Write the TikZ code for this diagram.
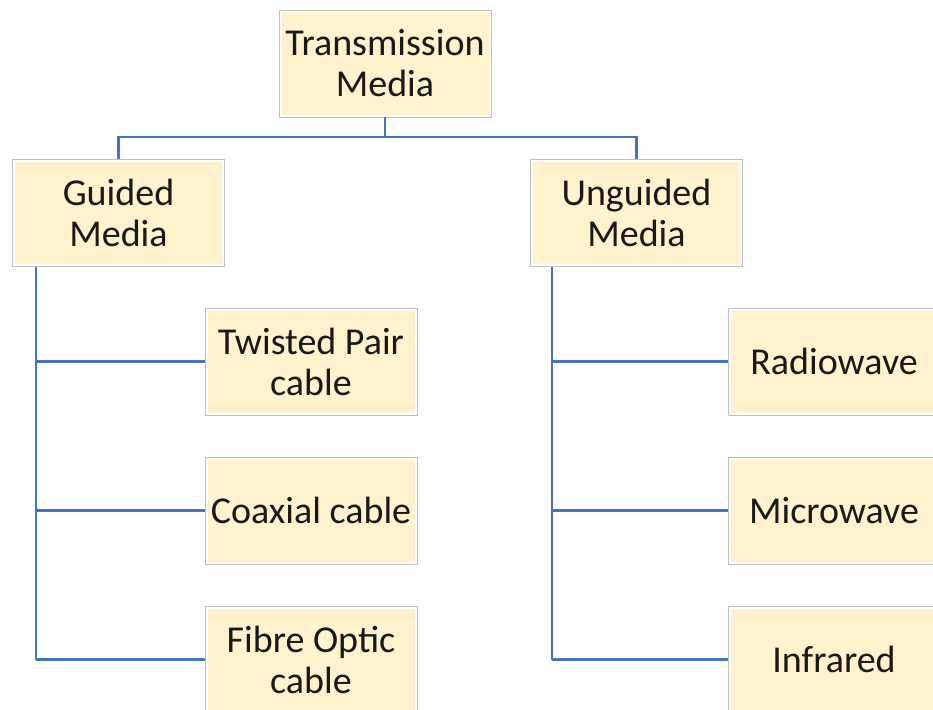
\documentclass[tikz,border=0pt]{standalone}
\usepackage{fontspec}
\setmainfont{Carlito}
\definecolor{boxfill}{HTML}{FFF2CC}
\definecolor{boxline}{HTML}{BFBFBF}
\definecolor{treeline}{HTML}{4472C4}
\begin{document}
\begin{tikzpicture}[x=1pt,y=-1pt,
	medium/.style={rectangle,draw=boxline,line width=.8pt,fill=white,
		minimum width=212pt,minimum height=107pt,inner sep=0pt,align=center,
		font=\fontsize{38}{41}\selectfont,text=black!90,
		path picture={\fill[boxfill] ([shift={(2.5pt,2.5pt)}]path picture bounding box.south west)
			rectangle ([shift={(-2.5pt,-2.5pt)}]path picture bounding box.north east);}},
	link/.style={draw=treeline,line width=2.4pt}]
	\clip (0,0) rectangle (933,709);

	\begin{scope}
		\node[medium] (tm) at (385,63.5) {Transmission\\Media};
		\node[medium] (gm) at (118.5,213) {Guided\\Media};
		\node[medium] (um) at (636.5,213) {Unguided\\Media};
	\end{scope}

	\begin{scope}
		\node[medium] (tp) at (311,361.5) {Twisted Pair\\cable};
		\node[medium] (cc) at (311,510.5) {Coaxial cable};
		\node[medium] (fo) at (311,659.5) {Fibre Optic\\cable};
		\node[medium] (rw) at (834,361.5) {Radiowave};
		\node[medium] (mw) at (834,510.5) {Microwave};
		\node[medium] (ir) at (834,659.5) {Infrared};
	\end{scope}

	\begin{scope}
		\coordinate (split) at (385,137);
		\coordinate (gtrunk) at (36,0);
		\coordinate (utrunk) at (552,0);
		\draw[link] (tm.south) -- (split);
		\draw[link] (gm.north) -- (gm.north |- split) -- (um.north |- split) -- (um.north);
		\draw[link] (gtrunk |- gm.south) -- (gtrunk |- fo.west);
		\draw[link] (utrunk |- um.south) -- (utrunk |- ir.west);
		\foreach \leaf in {tp,cc,fo}
			\draw[link] (gtrunk |- \leaf.west) -- (\leaf.west);
		\foreach \leaf in {rw,mw,ir}
			\draw[link] (utrunk |- \leaf.west) -- (\leaf.west);
	\end{scope}
\end{tikzpicture}
\end{document}
